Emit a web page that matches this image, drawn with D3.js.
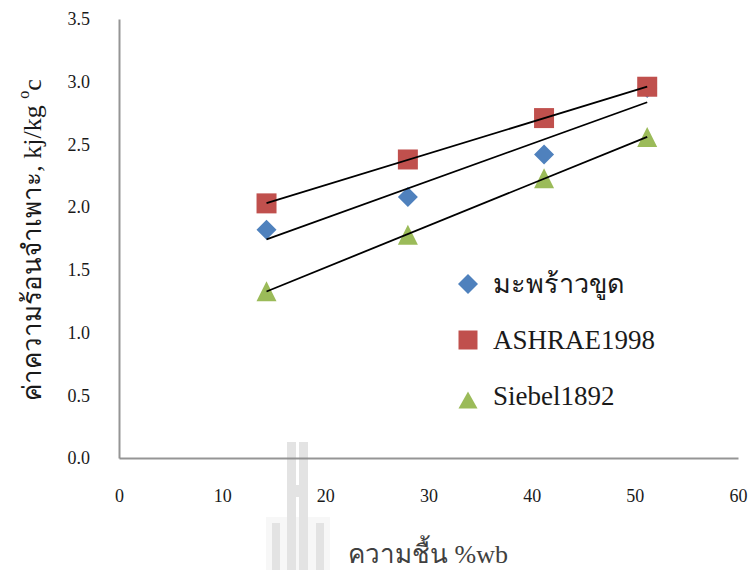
<!DOCTYPE html>
<html>
<head>
<meta charset="utf-8">
<script src="https://cdn.jsdelivr.net/npm/d3@7"></script>
<style>
  body { margin: 0; background: #fff; }
</style>
</head>
<body>
<div id="chart"></div>
<script>
const moisture = [14.3, 28.0, 41.2, 51.2]
const coconut = [1.82, 2.08, 2.42, 2.95]
const ashrae = [2.03, 2.38, 2.71, 2.96]
const siebel = [1.33, 1.78, 2.23, 2.56]
const seriesNames = ["มะพร้าวขูด", "ASHRAE1998", "Siebel1892"]
const seriesColours = ["#4f81bd", "#c0504d", "#9bbb59"]
const xTicks = [0, 10, 20, 30, 40, 50, 60]
const yTicks = [0, 0.5, 1, 1.5, 2, 2.5, 3, 3.5]

const serif = "'Liberation Serif', 'DejaVu Serif', serif"
let width = 748, height = 570

let x = d3.scaleLinear().domain([0, 60]).range([119, 738])
let y = d3.scaleLinear().domain([0, 3.5]).range([458, 19])

let svg = d3.select("#chart")
  .append("svg")
  .attr("width", width)
  .attr("height", height)
  .attr("font-family", serif)

// faint watermark behind the chart
let wm = svg.append("g").attr("fill", "#e3e3e3")
wm.append("rect").attr("x", 266).attr("y", 517).attr("width", 64).attr("height", 53).attr("fill", "#f7f7f7")
;[[287, 442, 9, 128], [299, 442, 9, 128], [287, 485, 21, 12], [272, 523, 8, 47], [316, 523, 8, 47]]
  .forEach(r => wm.append("rect").attr("x", r[0]).attr("y", r[1]).attr("width", r[2]).attr("height", r[3]))

// axes
let xAxis = d3.axisBottom(x).tickValues(xTicks).tickSize(0).tickPadding(31).tickFormat(d3.format("d"))
let yAxis = d3.axisLeft(y).tickValues(yTicks).tickSize(0).tickPadding(29).tickFormat(d3.format(".1f"))

let gx = svg.append("g").attr("transform", "translate(0," + y(0) + ")").call(xAxis)
let gy = svg.append("g").attr("transform", "translate(" + x(0) + ",0)").call(yAxis)
;[gx, gy].forEach(g => {
  g.attr("font-family", serif).attr("font-size", 18)
  g.select(".domain").attr("stroke", "#8a8a8a").attr("stroke-width", 2).attr("opacity", 0.9)
  g.selectAll("text").attr("fill", "#1a1a1a")
})

// marker shapes
function marker(type, size) {
  let h = size / 2
  let p = d3.path()
  if (type == 0) { p.moveTo(0, -h); p.lineTo(h, 0); p.lineTo(0, h); p.lineTo(-h, 0) }
  else if (type == 1) { p.rect(-h, -h, size, size) }
  else { p.moveTo(0, -h); p.lineTo(h, h); p.lineTo(-h, h) }
  p.closePath()
  return p.toString()
}

let allSeries = [coconut, ashrae, siebel]

allSeries.forEach((vals, i) => {
  svg.append("g")
    .selectAll("path")
    .data(vals)
    .enter()
    .append("path")
    .attr("d", marker(i, 20))
    .attr("transform", (d, j) => "translate(" + x(moisture[j]) + "," + y(d) + ")")
    .attr("fill", seriesColours[i])
})

// linear trendlines
function fit(xs, ys) {
  let mx = d3.mean(xs), my = d3.mean(ys)
  let sxy = d3.sum(xs, (v, k) => (v - mx) * (ys[k] - my))
  let sxx = d3.sum(xs, v => (v - mx) * (v - mx))
  let b = sxy / sxx
  return v => my + b * (v - mx)
}

let ends = d3.extent(moisture)
allSeries.forEach(vals => {
  let f = fit(moisture, vals)
  svg.append("path")
    .datum(ends)
    .attr("d", d3.line().x(d => x(d)).y(d => y(f(d))))
    .attr("stroke", "#000")
    .attr("stroke-width", 1.8)
    .attr("fill", "none")
})

// legend
let legend = svg.append("g").attr("transform", "translate(468,284)")
seriesNames.forEach((name, i) => {
  let row = legend.append("g").attr("transform", "translate(0," + i * 56 + ")")
  row.append("path")
    .attr("d", marker(i, i == 0 ? 20 : 19))
    .attr("transform", i == 2 ? "translate(0,4) scale(1,0.9)" : null)
    .attr("fill", seriesColours[i])
  row.append("text")
    .attr("x", 25)
    .attr("y", 9)
    .attr("font-size", 27)
    .attr("fill", "#1a1a1a")
    .text(name)
})

// axis titles
svg.append("text")
  .attr("x", 428)
  .attr("y", 563)
  .attr("text-anchor", "middle")
  .attr("font-size", 26)
  .attr("fill", "#404040")
  .text("ความชื้น %wb")

let yt = svg.append("text")
  .attr("transform", "translate(41,240) rotate(-90)")
  .attr("text-anchor", "middle")
  .attr("font-size", 26)
  .attr("fill", "#1a1a1a")
yt.append("tspan").text("ค่าความร้อนจำเพาะ, kj/kg ")
yt.append("tspan").attr("font-size", 16).attr("dy", -12).text("o")
yt.append("tspan").attr("dy", 12).text("c")
</script>
</body>
</html>
